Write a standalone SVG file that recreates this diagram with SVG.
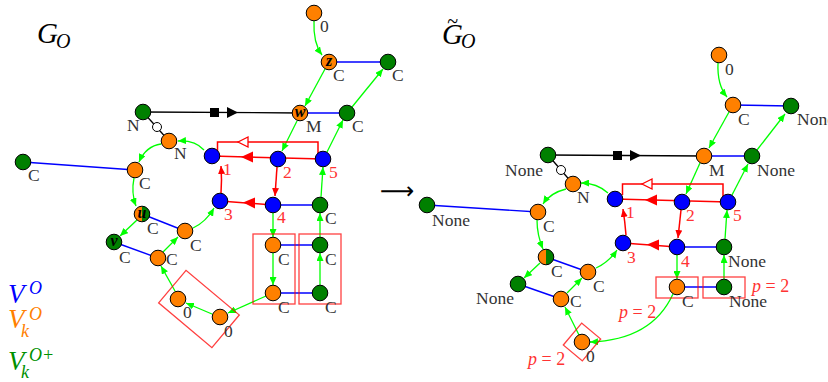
<svg xmlns="http://www.w3.org/2000/svg" width="828" height="382" viewBox="0 0 828 382">
<style>
.o{fill:#ff8000;stroke:#000;stroke-width:1}
.g{fill:#008000;stroke:#000;stroke-width:1}
.b{fill:#0000ff;stroke:#000;stroke-width:1}
.w{fill:#fff;stroke:#000;stroke-width:1}
.ga{fill:none;stroke:#00ff00;stroke-width:1.3;marker-end:url(#ag)}
.bl{stroke:#0000ff;stroke-width:1.4}
.rl{fill:none;stroke:#ff0000;stroke-width:1.5}
.ra{fill:none;stroke:#ff0000;stroke-width:1.5;marker-end:url(#ar)}
.rt{fill:#ff0000}
.rot{fill:#fff;stroke:#ff0000;stroke-width:1.3}
.kl{stroke:#000;stroke-width:1.3}
.box{fill:none;stroke:#ff0000;stroke-opacity:.75;stroke-width:1.3}
.lb{font-family:"Liberation Serif",serif;font-size:17.5px;fill:#333}
.rn{font-family:"Liberation Serif",serif;font-size:17.5px;fill:#f33}
.pl{font-family:"Liberation Serif",serif;font-size:18px;fill:#f33}
.ml{font-family:"Liberation Serif",serif;font-style:italic;font-weight:bold;font-size:16px;text-anchor:middle;fill:#000}
.tt{font-family:"Liberation Serif",serif;font-style:italic;fill:#000}
</style>
<defs>
<marker id="ag" viewBox="0 0 8 7" refX="8" refY="3.5" markerWidth="8" markerHeight="7" markerUnits="userSpaceOnUse" orient="auto"><path d="M0,0 L8,3.5 L0,7 Z" fill="#00ff00"/></marker>
<marker id="ar" viewBox="0 0 8 7" refX="8" refY="3.5" markerWidth="8" markerHeight="7" markerUnits="userSpaceOnUse" orient="auto"><path d="M0,0 L8,3.5 L0,7 Z" fill="#ff0000"/></marker>
</defs>

<!-- titles and legend -->
<text class="tt"><tspan x="37" y="43" font-size="29">G</tspan><tspan x="56" y="48" font-size="20">O</tspan></text>
<text class="tt"><tspan x="442" y="44" font-size="29">G</tspan><tspan x="461" y="48" font-size="20">O</tspan></text>
<text class="tt" x="447" y="28" font-size="20" font-style="normal">~</text>
<text x="380" y="199" font-family="DejaVu Sans,sans-serif" font-size="24" fill="#000">⟶</text>
<text class="tt" style="fill:#0000ff"><tspan x="8" y="303" font-size="27">V</tspan><tspan x="29" y="294" font-size="18">O</tspan></text>
<text class="tt" style="fill:#ff8000"><tspan x="8" y="328" font-size="27">V</tspan><tspan x="29" y="320" font-size="18">O</tspan><tspan x="21" y="337" font-size="18">k</tspan></text>
<text class="tt" style="fill:#009000"><tspan x="8" y="370" font-size="27">V</tspan><tspan x="29" y="361" font-size="18">O+</tspan><tspan x="21" y="378" font-size="18">k</tspan></text>

<!-- connectors -->
<g id="connectors">
 <!-- left graph -->
 <line class="kl" x1="143" y1="112" x2="300" y2="113"/>
 <rect x="210" y="108" width="9" height="9" fill="#000"/>
 <polygon points="227,107 238,112.5 227,118" fill="#000"/>
 <line class="kl" x1="143" y1="112" x2="169" y2="141"/>
 <line class="bl" x1="329" y1="62" x2="388" y2="62"/>
 <line class="bl" x1="300" y1="113" x2="347" y2="113"/>
 <line class="bl" x1="23" y1="162" x2="135" y2="170"/>
 <line class="bl" x1="142" y1="214" x2="185" y2="231"/>
 <line class="bl" x1="114" y1="242" x2="158" y2="258"/>
 <line class="bl" x1="273" y1="205" x2="320" y2="205"/>
 <line class="bl" x1="273" y1="245" x2="320" y2="245"/>
 <line class="bl" x1="273" y1="293" x2="320" y2="293"/>
 <path class="ga" d="M314,21 Q313,43 322,55"/>
 <path class="ga" d="M325,69 L305,106"/>
 <path class="ga" d="M297,121 L282,151"/>
 <path class="ga" d="M352,107 L383,69"/>
 <path class="ga" d="M327,152 L343,120"/>
 <path class="ga" d="M321,197 L323,167"/>
 <path class="ga" d="M204,150 Q195,140 178,141"/>
 <path class="ga" d="M161,144 Q146,146 139,162"/>
 <path class="ga" d="M134,178 Q131,193 136,206"/>
 <path class="ga" d="M137,220 L120,236"/>
 <path class="ga" d="M163,252 L178,237"/>
 <path class="ga" d="M193,228 Q206,222 214,208"/>
 <path class="ga" d="M175,291 L161,266"/>
 <path class="ga" d="M212,314 L186,303"/>
 <path class="ga" d="M266,296 L228,313"/>
 <path class="ga" d="M273,213 L273,237"/>
 <path class="ga" d="M273,253 L273,285"/>
 <path class="ga" d="M320,285 L320,253"/>
 <path class="ga" d="M320,237 L320,213"/>
 <line class="rl" x1="323" y1="159" x2="212" y2="156"/>
 <polygon class="rt" points="241,157 253,151.5 253,162.5"/>
 <path class="rl" d="M318,159 V142 H217.5 V152"/>
 <polygon class="rot" points="238,142 248,137 248,147"/>
 <path class="ra" d="M277,167 L275,196"/>
 <path class="ra" d="M221,193 Q222,180 221,166"/>
 <line class="rl" x1="273" y1="205" x2="220" y2="201"/>
 <polygon class="rt" points="243,202.5 255,197.5 255,208.5"/>
 <rect class="box" x="253" y="234" width="42" height="70"/>
 <rect class="box" x="299" y="234" width="42" height="70"/>
 <rect class="box" x="-34.8" y="-21.3" width="69.5" height="42.6" transform="translate(199 309) rotate(40)"/>

 <!-- right graph -->
 <line class="kl" x1="548" y1="155" x2="704" y2="156"/>
 <rect x="613" y="151" width="9" height="9" fill="#000"/>
 <polygon points="630,150 641,155.5 630,161" fill="#000"/>
 <line class="kl" x1="548" y1="155" x2="573" y2="184"/>
 <line class="bl" x1="733" y1="105" x2="791" y2="106"/>
 <line class="bl" x1="704" y1="156" x2="752" y2="156"/>
 <line class="bl" x1="427" y1="205" x2="538" y2="212"/>
 <line class="bl" x1="546" y1="257" x2="588" y2="272"/>
 <line class="bl" x1="518" y1="284" x2="561" y2="299"/>
 <line class="bl" x1="677" y1="247" x2="724" y2="247"/>
 <line class="bl" x1="677" y1="287" x2="724" y2="287"/>
 <path class="ga" d="M718,63 Q717,85 727,97"/>
 <path class="ga" d="M729,112 L709,148"/>
 <path class="ga" d="M700,163 L686,194"/>
 <path class="ga" d="M757,150 L785,114"/>
 <path class="ga" d="M732,195 L748,164"/>
 <path class="ga" d="M725,239 L727,210"/>
 <path class="ga" d="M608,193 Q597,183 581,183"/>
 <path class="ga" d="M566,189 Q550,193 543,204"/>
 <path class="ga" d="M537,220 Q537,235 543,249"/>
 <path class="ga" d="M540,263 L524,278"/>
 <path class="ga" d="M567,293 L582,278"/>
 <path class="ga" d="M596,268 Q609,262 617,250"/>
 <path class="ga" d="M579,335 L565,307"/>
 <path class="ga" d="M673,294 Q652,340 590,342"/>
 <path class="ga" d="M677,255 L677,279"/>
 <path class="ga" d="M724,279 L724,255"/>
 <line class="rl" x1="728" y1="202" x2="615" y2="199"/>
 <polygon class="rt" points="645,200 657,194.5 657,205.5"/>
 <path class="rl" d="M723,202 V184 H622.5 V195"/>
 <polygon class="rot" points="642,184 652,179 652,189"/>
 <path class="ra" d="M681,210 L678,238"/>
 <path class="ra" d="M626,235 Q625,222 623,209"/>
 <line class="rl" x1="677" y1="247" x2="623" y2="243"/>
 <polygon class="rt" points="647,244.5 659,239.5 659,250.5"/>
 <rect class="box" x="656" y="277" width="42" height="21"/>
 <rect class="box" x="703" y="277" width="42" height="21"/>
 <rect class="box" x="-12.4" y="-14.3" width="24.8" height="28.6" transform="translate(582 342) rotate(40)"/>
 <text class="pl" x="752" y="292"><tspan font-style="italic">p</tspan> = 2</text>
 <text class="pl" x="619" y="318"><tspan font-style="italic">p</tspan> = 2</text>
 <text class="pl" x="528" y="365"><tspan font-style="italic">p</tspan> = 2</text>
</g>

<!-- left nodes -->
<g id="l0"><circle class="o" cx="314" cy="13" r="7.8"/><text class="lb" x="320" y="32">0</text></g>
<g id="lz"><circle class="o" cx="329" cy="62" r="7.8"/><text class="ml" x="329" y="66">z</text><text class="lb" x="333" y="81">C</text></g>
<g id="lCz"><circle class="g" cx="388" cy="62" r="7.8"/><text class="lb" x="392" y="81">C</text></g>
<g id="lw"><circle class="o" cx="300" cy="113" r="7.8"/><text class="ml" x="300" y="117">w</text><text class="lb" x="306" y="132">M</text></g>
<g id="lCw"><circle class="g" cx="347" cy="113" r="7.8"/><text class="lb" x="352" y="132">C</text></g>
<g id="lNg"><circle class="g" cx="143" cy="112" r="7.8"/><text class="lb" x="127" y="131">N</text></g>
<g id="lwh"><circle class="w" cx="157" cy="127" r="4.5"/></g>
<g id="lNo"><circle class="o" cx="169" cy="141" r="7.8"/><text class="lb" x="174" y="159">N</text></g>
<g id="lCfar"><circle class="g" cx="23" cy="162" r="7.8"/><text class="lb" x="28" y="181">C</text></g>
<g id="lCo"><circle class="o" cx="135" cy="170" r="7.8"/><text class="lb" x="139" y="189">C</text></g>
<g id="l1"><circle class="b" cx="212" cy="156" r="7.8"/><text class="rn" x="223" y="175">1</text></g>
<g id="l2"><circle class="b" cx="278" cy="159" r="7.8"/><text class="rn" x="283" y="178">2</text></g>
<g id="l5"><circle class="b" cx="323" cy="159" r="7.8"/><text class="rn" x="329" y="178">5</text></g>
<g id="l3"><circle class="b" cx="220" cy="201" r="7.8"/><text class="rn" x="224" y="220">3</text></g>
<g id="l4"><circle class="b" cx="273" cy="205" r="7.8"/><text class="rn" x="277" y="223">4</text></g>
<g id="lC4"><circle class="g" cx="320" cy="205" r="7.8"/><text class="lb" x="325" y="224">C</text></g>
<g id="lu"><path d="M142,206.2 A7.8,7.8 0 0 0 142,221.8 Z" fill="#ff8000"/><path d="M142,206.2 A7.8,7.8 0 0 1 142,221.8 Z" fill="#008000"/><circle cx="142" cy="214" r="7.8" fill="none" stroke="#000"/><text class="ml" x="142" y="218">u</text><text class="lb" x="147" y="234">C</text></g>
<g id="lCu"><circle class="o" cx="185" cy="231" r="7.8"/><text class="lb" x="190" y="251">C</text></g>
<g id="lv"><circle class="g" cx="114" cy="242" r="7.8"/><text class="ml" x="114" y="246">v</text><text class="lb" x="119" y="263">C</text></g>
<g id="lCv"><circle class="o" cx="158" cy="258" r="7.8"/><text class="lb" x="166" y="265">C</text></g>
<g id="lbo1"><circle class="o" cx="273" cy="245" r="7.8"/><text class="lb" x="278" y="265">C</text></g>
<g id="lbg1"><circle class="g" cx="320" cy="245" r="7.8"/><text class="lb" x="325" y="265">C</text></g>
<g id="lbo2"><circle class="o" cx="273" cy="293" r="7.8"/><text class="lb" x="278" y="313">C</text></g>
<g id="lbg2"><circle class="g" cx="320" cy="293" r="7.8"/><text class="lb" x="325" y="313">C</text></g>
<g id="l0a"><circle class="o" cx="178" cy="299" r="7.8"/><text class="lb" x="183" y="318">0</text></g>
<g id="l0b"><circle class="o" cx="220" cy="317" r="7.8"/><text class="lb" x="224" y="337">0</text></g>

<!-- right nodes -->
<g id="r0"><circle class="o" cx="719" cy="55" r="7.8"/><text class="lb" x="725" y="75">0</text></g>
<g id="rC"><circle class="o" cx="733" cy="105" r="7.8"/><text class="lb" x="738" y="125">C</text></g>
<g id="rN1"><circle class="g" cx="791" cy="106" r="7.8"/><text class="lb" x="797" y="125">None</text></g>
<g id="rM"><circle class="o" cx="704" cy="156" r="7.8"/><text class="lb" x="709" y="176">M</text></g>
<g id="rN2"><circle class="g" cx="752" cy="156" r="7.8"/><text class="lb" x="757" y="176">None</text></g>
<g id="rNL"><circle class="g" cx="548" cy="155" r="7.8"/><text class="lb" x="505" y="176">None</text></g>
<g id="rwh"><circle class="w" cx="561" cy="170" r="4.5"/></g>
<g id="rN"><circle class="o" cx="573" cy="184" r="7.8"/><text class="lb" x="577" y="203">N</text></g>
<g id="r1"><circle class="b" cx="615" cy="199" r="7.8"/><text class="rn" x="626" y="218">1</text></g>
<g id="r2"><circle class="b" cx="682" cy="202" r="7.8"/><text class="rn" x="686" y="221">2</text></g>
<g id="r5"><circle class="b" cx="728" cy="202" r="7.8"/><text class="rn" x="733" y="221">5</text></g>
<g id="r3"><circle class="b" cx="623" cy="243" r="7.8"/><text class="rn" x="627" y="263">3</text></g>
<g id="r4"><circle class="b" cx="677" cy="247" r="7.8"/><text class="rn" x="681" y="267">4</text></g>
<g id="rN4"><circle class="g" cx="724" cy="247" r="7.8"/><text class="lb" x="728" y="267">None</text></g>
<g id="rNfar"><circle class="g" cx="427" cy="205" r="7.8"/><text class="lb" x="432" y="226">None</text></g>
<g id="rCo"><circle class="o" cx="538" cy="212" r="7.8"/><text class="lb" x="543" y="232">C</text></g>
<g id="rhalf"><path d="M546,249.2 A7.8,7.8 0 0 0 546,264.8 Z" fill="#ff8000"/><path d="M546,249.2 A7.8,7.8 0 0 1 546,264.8 Z" fill="#008000"/><circle cx="546" cy="257" r="7.8" fill="none" stroke="#000"/><text class="lb" x="551" y="277">C</text></g>
<g id="rC2"><circle class="o" cx="588" cy="272" r="7.8"/><text class="lb" x="593" y="292">C</text></g>
<g id="rN3"><circle class="g" cx="518" cy="284" r="7.8"/><text class="lb" x="476" y="304">None</text></g>
<g id="rC3"><circle class="o" cx="561" cy="299" r="7.8"/><text class="lb" x="570" y="307">C</text></g>
<g id="rbo"><circle class="o" cx="677" cy="287" r="7.8"/><text class="lb" x="682" y="307">C</text></g>
<g id="rbg"><circle class="g" cx="724" cy="287" r="7.8"/><text class="lb" x="729" y="307">None</text></g>
<g id="r0b"><circle class="o" cx="582" cy="342" r="7.8"/><text class="lb" x="586" y="362">0</text></g>
</svg>
